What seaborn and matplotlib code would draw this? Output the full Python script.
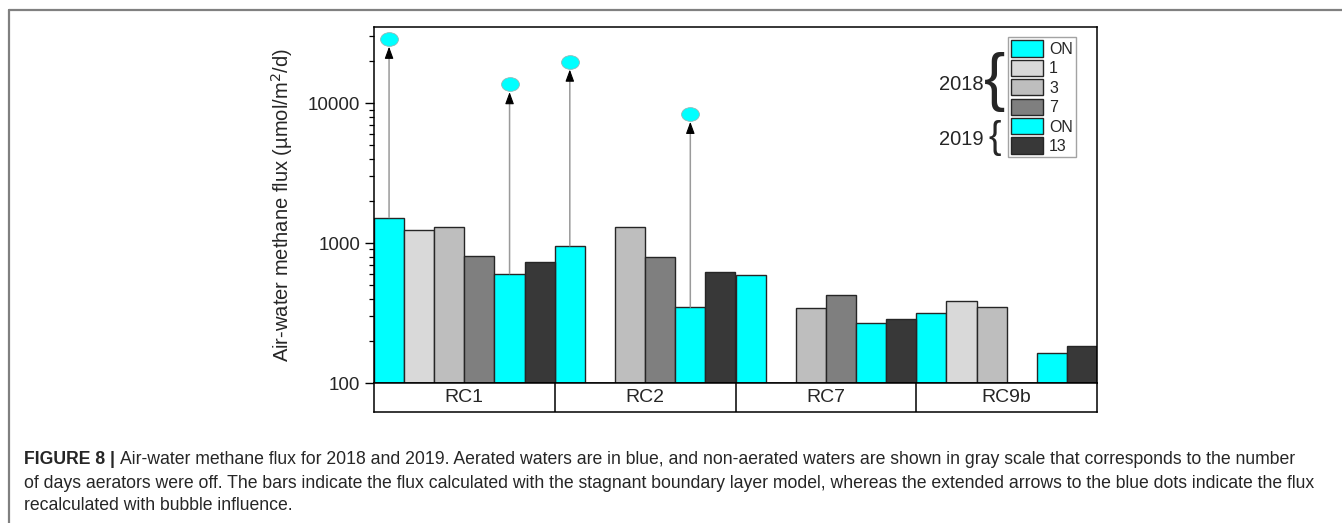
import numpy as np
import pandas as pd
import seaborn as sns
import matplotlib
matplotlib.use("Agg")
import matplotlib.pyplot as plt
from matplotlib.patches import Patch
from matplotlib.lines import Line2D
from matplotlib.path import Path
from matplotlib.transforms import Affine2D
from matplotlib.ticker import FuncFormatter

# ---------------- data ----------------
sites = ["RC1", "RC2", "RC7", "RC9b"]
levels = ["ON 2018", "1", "3", "7", "ON 2019", "13"]
legend_labels = ["ON", "1", "3", "7", "ON", "13"]
flux_on2018 = [1520, 955, 595, 316]
flux_day1 = [1236, np.nan, np.nan, 387]
flux_day3 = [1298, 1306, 345, 349]
flux_day7 = [813, 796, 425, np.nan]
flux_on2019 = [604, 349, 268, 164]
flux_day13 = [737, 618, 289, 185]
bubble_on2018 = [28700, 19700, np.nan, np.nan]
bubble_on2019 = [13600, 8340, np.nan, np.nan]

colors = ["#00FFFF", "#D9D9D9", "#BEBEBE", "#7F7F7F", "#00FFFF", "#383838"]

caption_bold = "FIGURE 8 | "
caption_lines = [
    "Air-water methane flux for 2018 and 2019. Aerated waters are in blue, and non-aerated waters are shown in gray scale that corresponds to the number",
    "of days aerators were off. The bars indicate the flux calculated with the stagnant boundary layer model, whereas the extended arrows to the blue dots indicate the flux",
    "recalculated with bubble influence.",
]

series = [flux_on2018, flux_day1, flux_day3, flux_day7, flux_on2019, flux_day13]
rows = []
for lev, vals in zip(levels, series):
    for s, v in zip(sites, vals):
        rows.append({"site": s, "level": lev, "flux": v})
df = pd.DataFrame(rows).dropna()

# ---------------- style ----------------
sns.set_theme(style="ticks")
plt.rcParams["font.family"] = ["Liberation Sans", "DejaVu Sans"]

W, H = 1342, 523
fig = plt.figure(figsize=(W / 100, H / 100), dpi=100)

ax_l, ax_r, ax_t, ax_b = 374, 1097, 27, 383
ax = fig.add_axes([ax_l / W, 1 - ax_b / H, (ax_r - ax_l) / W, (ax_b - ax_t) / H])

palette = dict(zip(levels, colors))
sns.barplot(data=df, x="site", y="flux", hue="level", order=sites, hue_order=levels,
            palette=palette, width=1.0, ax=ax, edgecolor="#262626", linewidth=1.0,
            saturation=1, legend=False)
ax.set_yscale("log")
ax.set_ylim(100, 35000)
ax.set_xlim(-0.5, 3.5)
ax.yaxis.set_major_formatter(FuncFormatter(lambda v, p: f"{v:g}"))
ax.tick_params(axis="y", which="major", length=6.5, width=1.0, labelsize=13.5, color="black", direction="out")
ax.tick_params(axis="y", which="minor", length=3.5, width=0.9, color="black", direction="out")
ax.tick_params(axis="x", length=0, labelbottom=False)
ax.set_xlabel("")
ax.set_ylabel("Air-water methane flux (\u00b5mol/m$^{2}$/d)", fontsize=14.5, labelpad=9)
for sp in ax.spines.values():
    sp.set_visible(True)
    sp.set_color("black")
    sp.set_linewidth(1.1)

# bubble arrows + dots
nlev = len(levels)
def xpos(site_idx, lev_idx):
    return site_idx - 0.5 + (lev_idx + 0.5) / nlev

ell = Path(Affine2D().scale(1.3, 1.0).transform(Path.unit_circle().vertices), Path.unit_circle().codes)
for lev_idx, bar_vals, dots in [(0, flux_on2018, bubble_on2018), (4, flux_on2019, bubble_on2019)]:
    for i, (b, d) in enumerate(zip(bar_vals, dots)):
        if np.isnan(d):
            continue
        x = xpos(i, lev_idx)
        ax.annotate("", xy=(x, d), xytext=(x, b),
                    arrowprops=dict(arrowstyle="-", color="#9A9A9A", lw=1.1, shrinkA=0, shrinkB=11))
        ax.annotate("", xy=(x, d), xytext=(0, -11), textcoords="offset points",
                    arrowprops=dict(arrowstyle="-|>,head_length=0.6,head_width=0.22",
                                    color="black", lw=0.8, shrinkA=0, shrinkB=5.5))
        ax.scatter([x], [d], marker=ell, s=165, color="#00FFFF", edgecolor="#8FB8B8",
                   linewidth=0.6, zorder=5, clip_on=False)

# legend
handles = [Patch(facecolor=c, edgecolor="#262626", linewidth=1.0) for c in colors]
leg = ax.legend(handles, legend_labels, loc="upper right",
                bbox_to_anchor=((1076 - ax_l) / (ax_r - ax_l), (ax_b - 37) / (ax_b - ax_t)),
                fontsize=11.5, frameon=True, fancybox=False, edgecolor="#8C8C8C",
                handlelength=2.0, handleheight=1.2, labelspacing=0.18, handletextpad=0.4,
                borderpad=0.2, borderaxespad=0)
leg.get_frame().set_linewidth(1.0)

# year braces
def fx(px):
    return px / W
def fy(py):
    return 1 - py / H
fig.text(fx(984), fy(84), "2018", ha="right", va="center", fontsize=14.5)
fig.text(fx(995), fy(82), "{", ha="center", va="center", fontsize=46, fontweight="light")
fig.text(fx(984), fy(139), "2019", ha="right", va="center", fontsize=14.5)
fig.text(fx(995), fy(138), "{", ha="center", va="center", fontsize=27)

# category box below
bx = fig.add_axes([ax_l / W, 1 - 411.5 / H, (ax_r - ax_l) / W, (411.5 - ax_b) / H])
bx.set_xlim(-0.5, 3.5)
bx.set_ylim(0, 1)
bx.set_xticks([])
bx.set_yticks([])
for sp in bx.spines.values():
    sp.set_color("black")
    sp.set_linewidth(1.1)
for k in range(1, len(sites)):
    bx.axvline(k - 0.5, color="black", lw=1.1)
for i, s in enumerate(sites):
    bx.text(i, 0.48, s, ha="center", va="center", fontsize=14)

# frame lines of the page
fig.add_artist(Line2D([fx(9), 1], [fy(10), fy(10)], color="#808080", lw=1.6))
fig.add_artist(Line2D([fx(9), fx(9)], [fy(10), 0], color="#808080", lw=1.6))

# caption
cap_fs = 12.7
fig.canvas.draw()
renderer = fig.canvas.get_renderer()
t0 = fig.text(fx(24), fy(460), caption_bold, ha="left", va="center", fontsize=cap_fs, fontweight="bold")
bb = t0.get_window_extent(renderer)
fig.text(bb.x1 / W, fy(460), caption_lines[0], ha="left", va="center", fontsize=cap_fs)
fig.text(fx(24), fy(483), caption_lines[1], ha="left", va="center", fontsize=cap_fs)
fig.text(fx(24), fy(505), caption_lines[2], ha="left", va="center", fontsize=cap_fs)

fig.savefig("out.png", dpi=100)
